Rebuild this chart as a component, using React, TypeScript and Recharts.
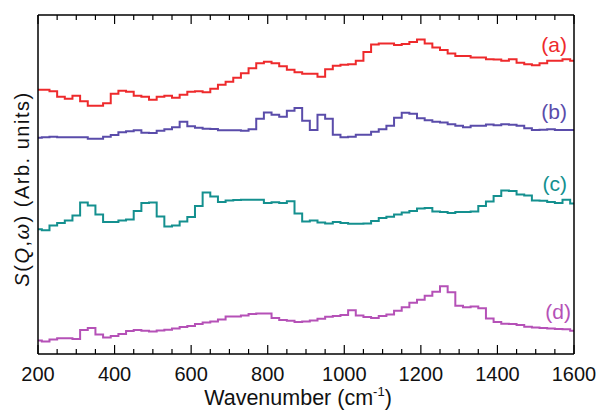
import React from 'react'
import { LineChart, Line, XAxis, YAxis, Customized } from 'recharts'

// wavenumber grid (cm-1)
const wavenumbers = [
  200, 220, 240, 260, 280, 300, 320, 340, 360, 380,
  400, 420, 440, 460, 480, 500, 520, 540, 560, 580,
  600, 620, 640, 660, 680, 700, 720, 740, 760, 780,
  800, 820, 840, 860, 880, 900, 920, 940, 960, 980,
  1000, 1020, 1040, 1060, 1080, 1100, 1120, 1140, 1160, 1180,
  1200, 1220, 1240, 1260, 1280, 1300, 1320, 1340, 1360, 1380,
  1400, 1420, 1440, 1460, 1480, 1500, 1520, 1540, 1560, 1580,
  1600
]

// S(Q,w), arbitrary units, curves already offset
const seriesA = [
  265, 265, 263.5, 258, 256, 259, 253.5, 249, 249, 251.5,
  261, 264, 263, 259, 258, 255, 258, 259, 257, 260,
  263, 263.5, 262.5, 266, 270, 273, 277, 281.5, 286.5, 291.7,
  293, 291.5, 288.5, 285, 282.5, 281, 281, 278, 285.5, 289,
  290, 290.5, 294, 303, 310.5, 311.5, 311.5, 310, 311, 313,
  315.5, 311.3, 307.5, 305, 301.5, 299, 299, 297.3, 297.5, 295.7,
  295.3, 294.2, 295.5, 292.2, 290.5, 289.5, 291.5, 294, 294, 295.7,
  294
]

const seriesB = [
  217, 217.5, 218, 217.5, 217.3, 217.5, 217.3, 216, 216, 218,
  219.7, 222.3, 223.5, 224.5, 222, 221.7, 224, 225.5, 227.3, 233,
  228.5, 227, 226, 225.7, 224.5, 224.5, 224.3, 224, 225.5, 236,
  242.3, 240, 238, 244, 246.7, 234, 224.7, 240, 236, 220,
  217.5, 218, 220, 220, 223, 225.5, 229, 237, 242, 241,
  236.5, 234.5, 233, 232.3, 230.5, 229, 227.5, 229, 229, 230.3,
  229.5, 230.5, 230, 229, 226.3, 224.7, 225, 225.5, 224.7, 224.7,
  224.7
]

const seriesC = [
  125, 124, 129, 131.3, 134, 139, 152, 149, 140, 132.5,
  132.3, 134, 135, 143.5, 151.5, 152, 138, 128, 129, 133,
  137.3, 148.5, 162, 158, 152.5, 154, 154.5, 154.7, 154.7, 154.7,
  151.5, 152.3, 151.5, 153.3, 141, 133, 134, 132, 131, 132.3,
  131.5, 130.7, 130.7, 131, 133.5, 136.5, 137.7, 140, 142, 143.3,
  146, 146.5, 143, 142.3, 141.5, 142.3, 142.3, 143, 148.5, 153,
  158.5, 164, 163.5, 160, 159, 154, 153.7, 152.5, 151.5, 154.7,
  151
]

const seriesD = [
  13.5, 12.5, 14.5, 15.7, 15.7, 15, 24, 26, 19.5, 16.5,
  18, 20, 23, 24, 23.3, 22.5, 23.5, 24.3, 25.5, 27,
  28, 30, 31.5, 32.7, 34.5, 37.5, 37.5, 38.7, 40, 40.7,
  40.5, 36, 34, 33.3, 32, 32.5, 33.7, 35.3, 37.3, 38,
  39, 44, 38.5, 37, 36, 38, 39.5, 43.5, 47, 51.3,
  54.3, 58.5, 62.5, 68, 62, 48.5, 47, 47.7, 46, 35.5,
  32, 30.3, 30, 29, 27.3, 26.7, 26.2, 25.7, 25, 24.7,
  23.3
]

// every 50 cm-1; the multiples of 200 are the labelled ones
const xTicks = [
  200, 250, 300, 350, 400, 450, 500, 550, 600, 650, 700, 750, 800, 850, 900,
  950, 1000, 1050, 1100, 1150, 1200, 1250, 1300, 1350, 1400, 1450, 1500, 1550, 1600
]

const seriesNames = ['(a)', '(b)', '(c)', '(d)']
const colors = ['#ee2a2c', '#5a4caa', '#14908f', '#b551b7']

const data = wavenumbers.map((w, i) => ({
  w,
  a: seriesA[i],
  b: seriesB[i],
  c: seriesC[i],
  d: seriesD[i]
}))

const FONT = 'Arial, "Liberation Sans", sans-serif'
const Y_MAX = 340
const frame = { stroke: '#000', strokeWidth: 1.5 }

const tickLen = (v: number) => (v % 200 === 0 ? 9 : 5)

// y arrives on the frame line (tickSize 0, tickMargin 0), ticks point inward
const BottomTick = (props: any) => {
  const { x, y, payload } = props
  const v = payload.value
  return (
    <g>
      <line x1={x} x2={x} y1={y} y2={y - tickLen(v)} stroke="#000" strokeWidth={1.2} />
      {v % 200 === 0 && (
        <text x={x} y={y + 27} textAnchor="middle" fontSize={20} fontFamily={FONT} fill="#111">
          {v}
        </text>
      )}
    </g>
  )
}

const TopTick = (props: any) => {
  const { x, y, payload } = props
  return <line x1={x} x2={x} y1={y} y2={y + tickLen(payload.value)} stroke="#000" strokeWidth={1.2} />
}

// axis titles and curve labels
const Annotations = () => {
  const labelPos = [
    { x: 567, y: 52 },
    { x: 567, y: 119 },
    { x: 567, y: 191 },
    { x: 571, y: 319 }
  ]
  return (
    <g fontFamily={FONT}>
      <text x={298} y={405} textAnchor="middle" fontSize={21.5} fill="#111">
        Wavenumber (cm<tspan dy={-9} fontSize={13}>-1</tspan><tspan dy={9}>)</tspan>
      </text>
      <text
        x={29}
        y={189}
        transform="rotate(-90, 29, 189)"
        textAnchor="middle"
        fontSize={20}
        letterSpacing={1.5}
        fill="#111"
      >
        <tspan fontStyle="italic">S</tspan>(<tspan fontStyle="italic">Q</tspan>,<tspan fontStyle="italic">ω</tspan>) (Arb. units)
      </text>
      {seriesNames.map((name, i) => (
        <text key={name} x={labelPos[i].x} y={labelPos[i].y} textAnchor="end" fontSize={21} fill={colors[i]}>
          {name}
        </text>
      ))}
    </g>
  )
}

export default function App() {
  return (
    <div style={{ position: 'absolute', left: 0, top: 0, background: '#fff' }}>
      <LineChart width={601} height={410} data={data} margin={{ top: 0, right: 0, bottom: 0, left: 0 }}>
        <XAxis
          xAxisId="b"
          dataKey="w"
          type="number"
          domain={[200, 1600]}
          ticks={xTicks}
          interval={0}
          tickSize={0}
          tickMargin={0}
          tickLine={false}
          tick={BottomTick}
          axisLine={frame}
          height={56}
          allowDataOverflow
        />
        <XAxis
          xAxisId="t"
          orientation="top"
          dataKey="w"
          type="number"
          domain={[200, 1600]}
          ticks={xTicks}
          interval={0}
          tickSize={0}
          tickMargin={0}
          tickLine={false}
          tick={TopTick}
          axisLine={frame}
          height={15}
          allowDataOverflow
        />
        <YAxis
          yAxisId="l"
          domain={[0, Y_MAX]}
          width={38}
          tick={false}
          tickLine={false}
          axisLine={frame}
          allowDataOverflow
        />
        <YAxis
          yAxisId="r"
          orientation="right"
          domain={[0, Y_MAX]}
          width={27}
          tick={false}
          tickLine={false}
          axisLine={frame}
        />
        {['a', 'b', 'c', 'd'].map((key, i) => (
          <Line
            key={key}
            xAxisId="b"
            yAxisId="l"
            type="step"
            dataKey={key}
            stroke={colors[i]}
            strokeWidth={2}
            dot={false}
            activeDot={false}
            isAnimationActive={false}
          />
        ))}
        <Customized component={Annotations} />
      </LineChart>
    </div>
  )
}
